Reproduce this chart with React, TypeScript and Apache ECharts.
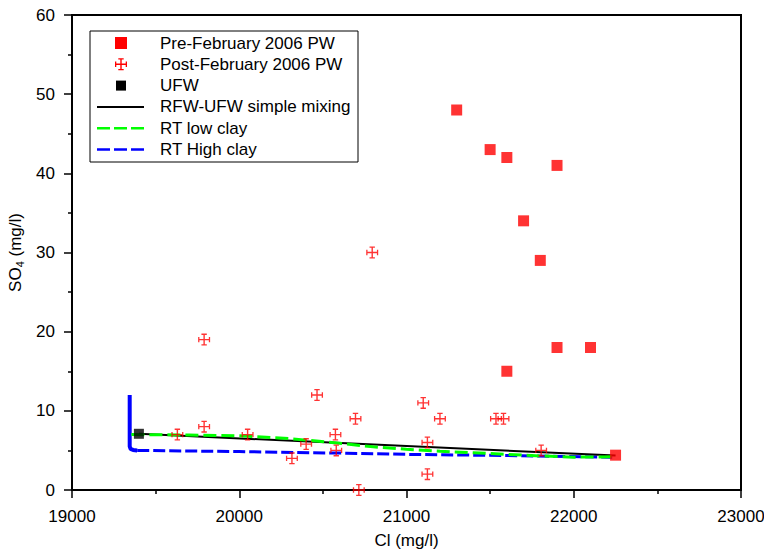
import React, { useEffect, useRef } from "react";
import * as echarts from "echarts";

// Pre-February 2006 produced water samples
const preX = [21300, 21500, 21600, 21900, 21700, 21800, 21900, 22100, 21600, 22250];
const preY = [48, 43, 42, 41, 34, 29, 18, 18, 15, 4.4];

// Post-February 2006 produced water samples
const postX = [19630, 19790, 19790, 20050, 20315, 20400, 20465, 20575, 20580, 20695, 20715, 20795, 21100, 21125, 21125, 21200, 21535, 21580, 21805];
const postY = [7, 8, 19, 7, 4, 5.8, 12, 7, 5, 9, 0, 30, 11, 6, 2, 9, 9, 9, 5];

// Undisturbed formation water
const ufwX = [19400];
const ufwY = [7.1];

// RFW-UFW simple mixing line
const mixX = [19400, 22250];
const mixY = [7.1, 4.35];

// Reactive transport, low clay
const lowClayX = [19355, 19700, 20000, 20300, 20600, 20800, 21000, 21200, 21400, 21600, 21800, 22000, 22230];
const lowClayY = [7.0, 6.95, 6.85, 6.5, 5.9, 5.45, 5.15, 4.9, 4.7, 4.5, 4.3, 4.15, 4.2];

// Reactive transport, high clay (initial transient stem + trend)
const highStemX = [19345, 19345, 19350, 19365, 19390];
const highStemY = [12, 5.5, 5.2, 5.06, 5.0];
const highClayX = [19390, 20000, 20640, 21000, 21600, 22230];
const highClayY = [5.0, 4.85, 4.65, 4.5, 4.35, 4.15];

const xTicks = { min: 19000, max: 23000, interval: 1000 };
const yTicks = { min: 0, max: 60, interval: 10 };

const legendNames = [
  "Pre-February 2006 PW",
  "Post-February 2006 PW",
  "UFW",
  "RFW-UFW simple mixing",
  "RT low clay",
  "RT High clay",
];

const FONT = "'Liberation Sans', Arial, Helvetica, sans-serif";
const FS = 17;

const CROSS_D =
  "M5.3 0H6.7V12H5.3Z M0 5.3H12V6.7H0Z M3.3 0H8.7V1.3H3.3Z M3.3 10.7H8.7V12H3.3Z M0 3.3H1.3V8.7H0Z M10.7 3.3H12V8.7H10.7Z";
const CROSS = "path://" + CROSS_D;

const zip = (xs: number[], ys: number[]) => xs.map((x, i) => [x, ys[i]]);

export default function App() {
  const ref = useRef<HTMLDivElement>(null);

  useEffect(() => {
    if (!ref.current) return;
    echarts.graphic.registerShape("crossMark", echarts.graphic.extendPath(CROSS_D, {}));
    const chart = echarts.init(ref.current, null, { renderer: "svg" });

    const axisCommon = {
      type: "value" as const,
      axisLine: { show: true, onZero: false, lineStyle: { color: "#000", width: 2 } },
      axisTick: { show: true, inside: false, length: 8, lineStyle: { color: "#000", width: 1.5 } },
      minorTick: { show: true, splitNumber: 2, length: 4, lineStyle: { color: "#000", width: 1.5 } },
      splitLine: { show: false },
      axisLabel: {
        color: "#000",
        fontSize: FS,
        fontFamily: FONT,
        formatter: (v: number) => String(v),
      },
      nameTextStyle: { color: "#000", fontSize: FS, fontFamily: FONT },
    };

    const rowY = (i: number) => 43 + i * 21.3;
    const legendGraphics: any[] = [
      {
        type: "rect",
        shape: { x: 90, y: 31, width: 268, height: 131 },
        style: { fill: "#fff", stroke: "#000", lineWidth: 1 },
        z: 10,
      },
      {
        type: "rect",
        shape: { x: 121 - 6, y: rowY(0) - 6, width: 12, height: 12 },
        style: { fill: "#ff0000" },
        z: 11,
      },
      {
        type: "crossMark",
        x: 121 - 6,
        y: rowY(1) - 6,
        scaleX: 1,
        scaleY: 1,
        style: { fill: "#ff0000" },
        z: 11,
      },
      {
        type: "rect",
        shape: { x: 121 - 5, y: rowY(2) - 5, width: 10, height: 10 },
        style: { fill: "#000" },
        z: 11,
      },
      {
        type: "line",
        shape: { x1: 97, y1: rowY(3), x2: 144, y2: rowY(3) },
        style: { stroke: "#000", lineWidth: 2 },
        z: 11,
      },
      {
        type: "line",
        shape: { x1: 97, y1: rowY(4), x2: 144, y2: rowY(4) },
        style: { stroke: "#00ff00", lineWidth: 2.5, lineDash: [13, 4] },
        z: 11,
      },
      {
        type: "line",
        shape: { x1: 97, y1: rowY(5), x2: 144, y2: rowY(5) },
        style: { stroke: "#0000ff", lineWidth: 2.5, lineDash: [13, 4] },
        z: 11,
      },
      ...legendNames.map((t, i) => ({
        type: "text",
        x: 160,
        y: rowY(i),
        style: {
          text: t,
          fill: "#000",
          fontSize: FS,
          fontFamily: FONT,
          verticalAlign: "middle",
          align: "left",
        },
        z: 11,
      })),
    ];

    chart.setOption({
      animation: false,
      backgroundColor: "#fff",
      grid: {
        left: 72,
        right: 23,
        top: 15,
        bottom: 61,
        outerBoundsMode: "none",
        show: true,
        borderColor: "#000",
        borderWidth: 2,
        backgroundColor: "transparent",
      },
      xAxis: {
        ...axisCommon,
        ...xTicks,
        name: "Cl (mg/l)",
        nameLocation: "middle",
        nameGap: 42,
        axisLabel: { ...axisCommon.axisLabel, margin: 18 },
      },
      yAxis: {
        ...axisCommon,
        ...yTicks,
        name: "{a|SO}{s|4}{a| (mg/l)}",
        nameLocation: "middle",
        nameGap: 44,
        nameTextStyle: {
          ...axisCommon.nameTextStyle,
          rich: {
            a: { fontSize: FS, fontFamily: FONT, color: "#000" },
            s: { fontSize: 11, fontFamily: FONT, color: "#000", padding: [8, 0, 0, 0] },
          },
        },
        axisLabel: { ...axisCommon.axisLabel, margin: 17 },
      },
      graphic: legendGraphics,
      series: [
        {
          name: "RFW-UFW simple mixing",
          type: "line",
          data: zip(mixX, mixY),
          showSymbol: false,
          lineStyle: { color: "#000", width: 2 },
          z: 3,
        },
        {
          name: "RT High clay",
          type: "line",
          data: zip(highStemX, highStemY),
          showSymbol: false,
          lineStyle: { color: "#0000ff", width: 4 },
          z: 2,
        },
        {
          name: "RT High clay",
          type: "line",
          data: zip(highClayX, highClayY),
          showSymbol: false,
          lineStyle: { color: "#0000ff", width: 3, type: [12, 4] },
          z: 2,
        },
        {
          name: "RT low clay",
          type: "line",
          data: zip(lowClayX, lowClayY),
          showSymbol: false,
          lineStyle: { color: "#00ff00", width: 3, type: [13, 5] },
          z: 4,
        },
        {
          name: "UFW",
          type: "scatter",
          data: zip(ufwX, ufwY),
          symbol: "rect",
          symbolSize: 10,
          itemStyle: { color: "#000" },
          z: 5,
        },
        {
          name: "Post-February 2006 PW",
          type: "scatter",
          data: zip(postX, postY),
          symbol: CROSS,
          symbolSize: 12,
          itemStyle: { color: "#ff0000" },
          z: 6,
        },
        {
          name: "Pre-February 2006 PW",
          type: "scatter",
          data: zip(preX, preY),
          symbol: "rect",
          symbolSize: 11,
          itemStyle: { color: "#ff0000" },
          z: 7,
        },
      ],
    });

    return () => chart.dispose();
  }, []);

  return (
    <div
      ref={ref}
      style={{ position: "fixed", left: 0, top: 0, width: 764, height: 551, background: "#fff" }}
    />
  );
}
